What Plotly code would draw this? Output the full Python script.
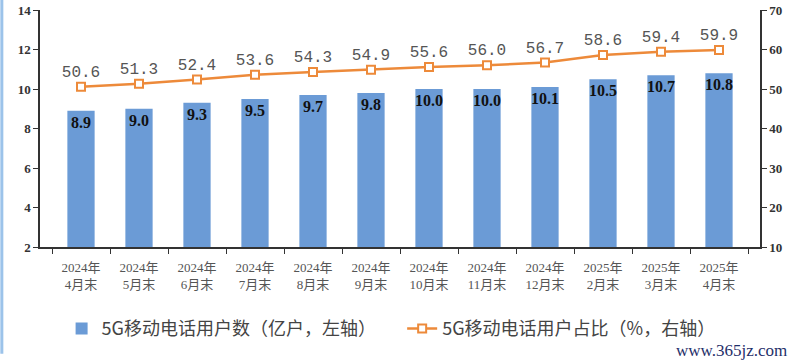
import plotly.graph_objects as go

categories = ["2024年<br>4月末", "2024年<br>5月末", "2024年<br>6月末", "2024年<br>7月末",
              "2024年<br>8月末", "2024年<br>9月末", "2024年<br>10月末", "2024年<br>11月末",
              "2024年<br>12月末", "2025年<br>2月末", "2025年<br>3月末", "2025年<br>4月末"]
users = [8.9, 9.0, 9.3, 9.5, 9.7, 9.8, 10.0, 10.0, 10.1, 10.5, 10.7, 10.8]
share = [50.6, 51.3, 52.4, 53.6, 54.3, 54.9, 55.6, 56.0, 56.7, 58.6, 59.4, 59.9]
left_ticks = [2, 4, 6, 8, 10, 12, 14]
right_ticks = [10, 20, 30, 40, 50, 60, 70]

serif = "Liberation Serif, DejaVu Serif, Noto Sans CJK SC, serif"

fig = go.Figure()
fig.add_trace(go.Bar(
    x=categories, y=users, base=0,
    name="5G移动电话用户数（亿户，左轴）",
    marker=dict(color="#6b9bd6", line=dict(width=0)),
    width=0.47,
    text=[f"{v:.1f}" for v in users],
    textposition="inside", insidetextanchor="end", textangle=0, constraintext="none",
    textfont=dict(family=serif, size=16, color="#111111", weight="bold"),
    legend="legend",
))
fig.add_trace(go.Scatter(
    x=categories, y=share, yaxis="y2",
    name="5G移动电话用户占比（%，右轴）",
    mode="lines+markers+text",
    line=dict(color="#ed8a3a", width=2.5),
    marker=dict(symbol="square", size=8, color="white", line=dict(color="#ed8a3a", width=2)),
    text=[f"{v:.1f}" for v in share],
    textposition="top center",
    textfont=dict(family="Liberation Mono, DejaVu Sans Mono, monospace", size=16, color="#555555"),
    cliponaxis=False,
    legend="legend2",
))

fig.update_layout(
    width=800, height=362,
    margin=dict(l=40, r=40, t=10, b=115),
    plot_bgcolor="white", paper_bgcolor="white",
    xaxis=dict(
        type="category", showline=True, linecolor="#333333", linewidth=1.5,
        ticks="outside", tickson="boundaries", ticklen=5, tickcolor="#333333",
        tickfont=dict(family=serif, size=13, color="#555555"), ticklabelstandoff=8,
        showgrid=False, automargin=False,
    ),
    yaxis=dict(
        range=[2, 14], tickvals=left_ticks, showline=True, linecolor="#333333", linewidth=1.5,
        ticks="outside", ticklen=5, tickcolor="#333333", showgrid=False, zeroline=False,
        tickfont=dict(family=serif, size=13, color="#333333", weight="bold"), automargin=False,
    ),
    yaxis2=dict(
        range=[10, 70], tickvals=right_ticks, overlaying="y", side="right",
        showline=True, linecolor="#333333", linewidth=1.5,
        ticks="outside", ticklen=5, tickcolor="#333333", showgrid=False, zeroline=False,
        tickfont=dict(family=serif, size=13, color="#333333", weight="bold"), automargin=False,
    ),
    legend=dict(
        x=0.03, y=-0.345, xanchor="left", yanchor="middle", orientation="h",
        font=dict(family="Noto Sans CJK SC", size=18, color="#444444"),
        bgcolor="rgba(0,0,0,0)",
    ),
    legend2=dict(
        x=0.503, y=-0.345, xanchor="left", yanchor="middle", orientation="h",
        font=dict(family="Noto Sans CJK SC", size=18, color="#444444"),
        bgcolor="rgba(0,0,0,0)",
    ),
    showlegend=True,
    shapes=[dict(type="line", xref="paper", yref="paper", x0=-0.053, x1=-0.053, y0=-0.45, y1=1.05,
                 line=dict(color="#9cc3ea", width=3))],
    annotations=[dict(text="www.365jz.com", xref="paper", yref="paper", x=1.04, y=-0.435,
                      xanchor="right", yanchor="middle", showarrow=False,
                      font=dict(family=serif, size=17, color="#1f2f6a"))],
)

fig.write_html("out.html", config={"displayModeBar": False},
               post_script="document.body.style.margin='0';")
